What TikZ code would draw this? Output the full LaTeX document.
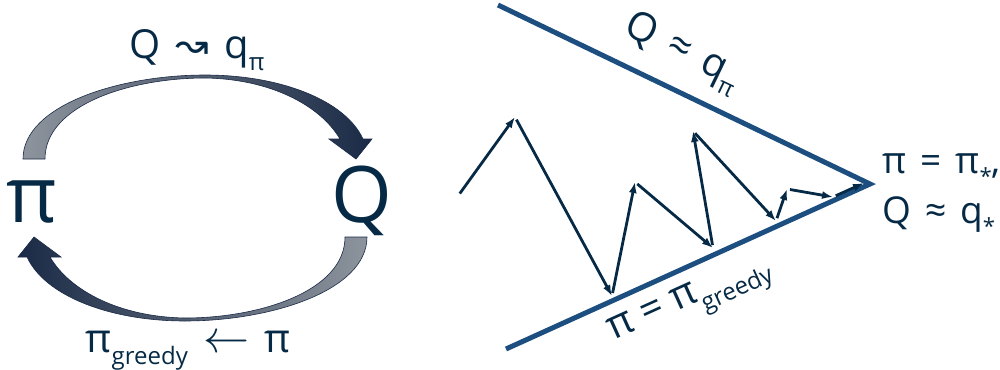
\documentclass[tikz,border=0pt]{standalone}
\usepackage{fontspec}
\usepackage{graphicx}
\usetikzlibrary{arrows.meta}
\setmainfont{Open Sans}
\newfontfamily\arrowfont{DejaVu Sans}
\definecolor{Ink}{HTML}{062A45}
\definecolor{Steel}{HTML}{1C4F7F}
\definecolor{Ash}{HTML}{8D949D}
\definecolor{Night}{HTML}{1A2A46}
\newcommand\dn[1]{\raisebox{-0.3em}{\scalebox{0.6}{#1}}}
\newcommand\gap{\hspace{0.38em}}

\begin{document}
\begin{tikzpicture}[x=1pt,y=-1pt,>=Latex,
txt/.style={text=Ink,inner sep=0pt,font=\fontsize{40}{44}\selectfont},
big/.style={text=Ink,inner sep=0pt,anchor=base,font=\fontsize{78}{80}\selectfont},
rim/.style={Steel,line width=5pt},
band/.style={left color=Ash,middle color=Ash!55!Night,right color=Night,draw=Night,line width=0.6pt},
arr/.style={Ink,line width=2.8pt,shorten <=3pt,-{Latex[length=11pt,width=8pt]}}]
\useasboundingbox (0,0) rectangle (1000,369);
\node[big] (pi) at (32,222) {π};
\node[big] (Q) at (362,222) {Q};
\node[txt,anchor=base] (eval) at (197,59) {Q\gap{\arrowfont ↝}\gap q\dn{π}};
\node[txt,anchor=base] (improve) at (188,352) {π\dn{greedy}\gap\scalebox{1.85}{$\leftarrow$}\gap π};
\shade[band] (23,159) .. controls (23,105) and (120,75) .. (205,75)
  .. controls (280,75) and (345,100) .. (363,139) -- (372,139) -- (356,159) -- (329,139) -- (340,139)
  .. controls (320,105) and (270,79) .. (205,78) .. controls (130,78) and (45,105) .. (45,159) -- cycle;
\shade[band,left color=Night,middle color=Ash!55!Night,right color=Ash] (367,237) .. controls (367,291) and (270,321) .. (185,321)
  .. controls (110,321) and (45,296) .. (27,257) -- (18,257) -- (34,237) -- (61,257) -- (50,257)
  .. controls (70,291) and (120,317) .. (185,318) .. controls (260,318) and (345,291) .. (345,237) -- cycle;
\coordinate (tl) at (498,5);
\coordinate (apex) at (870,184);
\coordinate (bl) at (506,349);
\draw[rim] (tl) -- (apex) -- (bl);
\node[txt,rotate=-25.6] (upper) at (682,53) {Q\gap≈\gap q\dn{π}};
\node[txt,rotate=24.3] (lower) at (691,303) {π = π\dn{greedy}};
\node[txt,anchor=base west,font=\fontsize{37}{40}\selectfont] (opt pi) at (882,173) {π\gap=\gap π\dn{*},};
\node[txt,anchor=base west,font=\fontsize{37}{40}\selectfont] (opt Q) at (882,223) {Q\gap≈\gap q\dn{*}};
\foreach \n/\x/\y in {0/458/196,1/515/117,2/612/296,3/635/182,4/713/248,5/693/131,6/776/221,7/787/189,8/833/197,9/864/183}{\coordinate (z\n) at (\x,\y);}
\foreach \u/\v in {z0/z1,z1/z2,z2/z3,z3/z4,z4/z5,z5/z6,z6/z7,z7/z8,z8/z9}{\draw[arr] (\u)--(\v);}
\end{tikzpicture}
\end{document}
